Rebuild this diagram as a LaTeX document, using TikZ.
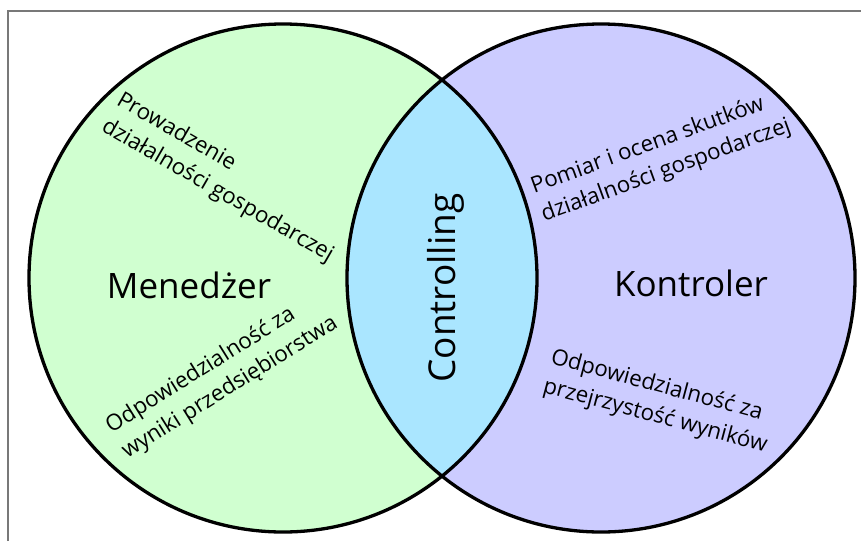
\documentclass[tikz,border=0pt]{standalone}
\usepackage{fontspec}
\setmainfont{Open Sans}
\definecolor{mgreen}{RGB}{208,255,208}
\definecolor{mblue}{RGB}{204,204,255}
\definecolor{mcyan}{RGB}{170,230,255}
\definecolor{framegray}{RGB}{120,120,120}
\begin{document}
\begin{tikzpicture}[x=1pt,y=-1pt,
  circ/.style={line width=3.3pt, draw=black},
  smalltext/.style={font=\fontsize{22.3}{30}\selectfont, align=left, inner sep=0pt},
  bigtext/.style={font=\fontsize{35}{40}\selectfont, inner sep=0pt}]
\useasboundingbox (0,0) rectangle (861,541);
\fill[white] (0,0) rectangle (861,541);
\coordinate (cL) at (283,278);
\coordinate (cR) at (601,278);
\coordinate (f1) at (8,541);
\coordinate (f2) at (8,11);
\coordinate (f3) at (861,11);
\draw[framegray, line width=1.2pt] (f1) -- (f2) -- (f3);
\fill[mgreen] (cL) circle (254pt);
\fill[mblue] (cR) circle (254pt);
\begin{scope}
  \clip (cL) circle (254pt);
  \fill[mcyan] (cR) circle (254pt);
\end{scope}
\draw[circ] (cL) circle (254pt);
\draw[circ] (cR) circle (254pt);
\node[bigtext] (men) at (189,285) {Menedżer};
\node[bigtext] (kon) at (691,283) {Kontroler};
\node[bigtext, font=\fontsize{37}{40}\selectfont, rotate=90] (con) at (446,288) {Controlling};
\node[smalltext, rotate=-30] (t1) at (225,178) {Prowadzenie\\działalności gospodarczej};
\node[smalltext, rotate=32] (t2) at (222,375) {Odpowiedzialność za\\wyniki przedsiębiorstwa};
\node[smalltext, rotate=20] (t3) at (661,157) {Pomiar i ocena skutków\\działalności gospodarczej};
\node[smalltext, rotate=-15] (t4) at (659,402) {Odpowiedzialność za\\przejrzystość wyników};
\end{tikzpicture}
\end{document}
